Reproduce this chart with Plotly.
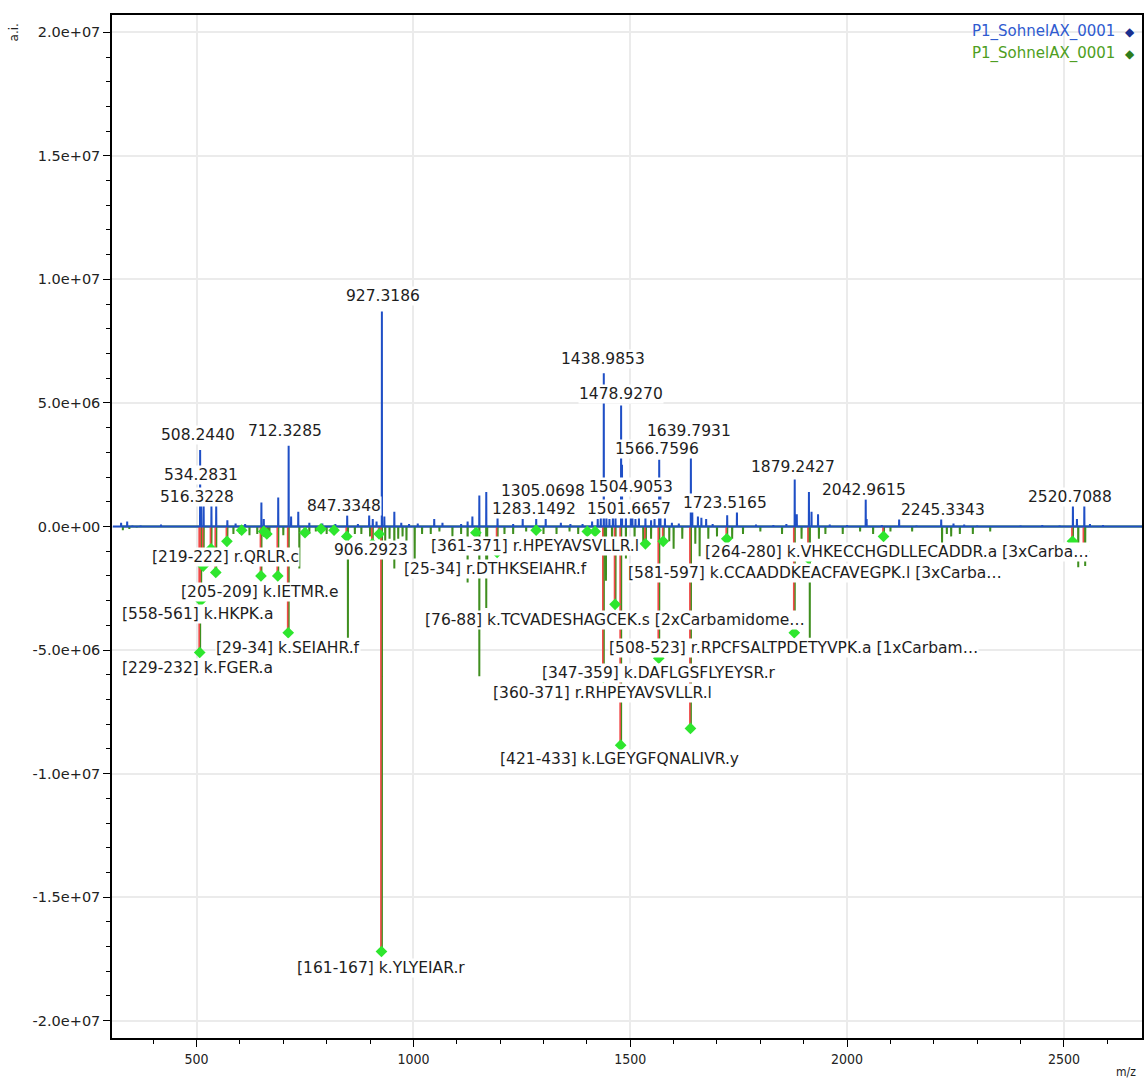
import plotly.graph_objects as go

# ---------------- data ----------------
# blue spectrum (positive): m/z and intensity (a.i.)
blue_mz = [326, 340, 352, 371, 418, 460, 508.24, 510.6, 516.32, 534.28, 545.3, 571, 590, 612,
           649.5, 655, 688.3, 712.33, 718, 734.5, 760, 790, 820, 847.33, 872, 898, 906.29, 915,
           927.32, 933, 956, 972, 990, 1010, 1048, 1067, 1110, 1125, 1136, 1152, 1168, 1194,
           1230, 1252, 1283.15, 1305.07, 1340, 1362, 1390, 1412, 1425, 1432, 1438.99, 1445,
           1452, 1460, 1466, 1478.93, 1481, 1490, 1501.67, 1504.91, 1512, 1520, 1535, 1548,
           1556, 1566.76, 1569.5, 1580, 1596, 1612, 1639.79, 1643, 1656, 1664, 1675, 1690,
           1723.52, 1746, 1790, 1830, 1860, 1879.24, 1884, 1912, 1918, 1933, 1960, 2000,
           2042.96, 2045, 2080, 2120, 2160, 2217, 2245.33, 2270, 2300, 2350, 2400, 2450, 2490,
           2520.71, 2530, 2547, 2560, 2590, 2610]
blue_int = [0.15e6, 0.2e6, 0.05e6, 0.05e6, 0.08e6, 0.04e6, 3.1e6, 0.85e6, 0.85e6, 0.85e6, 0.85e6,
            0.25e6, 0.12e6, 0.1e6, 0.97e6, 0.3e6, 1.17e6, 3.27e6, 0.4e6, 0.6e6, 0.15e6, 0.12e6,
            0.1e6, 0.45e6, 0.1e6, 0.5e6, 0.3e6, 0.2e6, 8.7e6, 0.4e6, 0.6e6, 0.15e6, 0.1e6, 0.12e6,
            0.3e6, 0.15e6, 0.1e6, 0.2e6, 0.4e6, 1.25e6, 1.4e6, 0.35e6, 0.1e6, 0.3e6, 0.3e6, 0.3e6,
            0.15e6, 0.1e6, 0.1e6, 0.2e6, 0.3e6, 0.4e6, 6.2e6, 0.45e6, 0.3e6, 0.5e6, 0.35e6, 4.9e6,
            2.5e6, 0.4e6, 0.5e6, 0.45e6, 0.3e6, 0.35e6, 0.4e6, 0.25e6, 0.3e6, 2.7e6, 1.5e6, 0.35e6,
            0.15e6, 0.12e6, 2.8e6, 0.7e6, 0.4e6, 0.35e6, 0.3e6, 0.1e6, 0.45e6, 0.7e6, 0.08e6,
            0.06e6, 0.1e6, 1.9e6, 0.5e6, 1.4e6, 0.6e6, 0.5e6, 0.08e6, 0.06e6, 1.1e6, 0.3e6,
            0.06e6, 0.28e6, 0.05e6, 0.3e6, 0.12e6, 0.08e6, 0.05e6, 0.04e6, 0.05e6, 0.06e6, 0.05e6,
            0.9e6, 0.3e6, 0.9e6, 0.1e6, 0.06e6, 0.04e6]

# green spectrum (mirrored, negative): peaks not matched to peptides
green_mz = [330, 345, 362, 585, 600, 622, 640, 668, 700, 737, 760, 775, 800, 849, 865, 880, 900,
            935, 945, 956, 965, 975, 984, 1003, 1020, 1040, 1060, 1090, 1110, 1125, 1152, 1168,
            1170, 1210, 1230, 1260, 1300, 1330, 1360, 1380, 1444, 1458, 1490, 1510, 1530, 1548,
            1590, 1600, 1620, 1650, 1660, 1680, 1700, 1735, 1760, 1800, 1850, 1895, 1914, 1935,
            1950, 1990, 2030, 2060, 2100, 2150, 2219, 2230, 2240, 2260, 2290, 2330, 2533, 2549]
green_int = [-0.15e6, -0.1e6, -0.05e6, -0.3e6, -0.3e6, -0.35e6, -0.3e6, -0.4e6, -0.35e6, -1.7e6,
             -0.3e6, -0.2e6, -0.3e6, -4.5e6, -0.3e6, -0.3e6, -0.4e6, -0.6e6, -0.5e6, -1.7e6,
             -0.5e6, -0.4e6, -0.8e6, -1.3e6, -0.3e6, -0.3e6, -0.2e6, -0.4e6, -0.3e6, -2.27e6,
             -6.06e6, -3.3e6, -2.0e6, -0.3e6, -0.3e6, -0.2e6, -0.3e6, -0.3e6, -0.2e6, -0.3e6,
             -2.2e6, -1.0e6, -1.3e6, -0.8e6, -0.6e6, -0.5e6, -0.6e6, -0.9e6, -0.5e6, -0.7e6,
             -1.2e6, -0.5e6, -0.4e6, -0.5e6, -0.3e6, -0.2e6, -0.3e6, -0.5e6, -4.5e6, -0.5e6,
             -0.3e6, -0.3e6, -0.2e6, -0.3e6, -0.2e6, -0.2e6, -0.7e6, -0.3e6, -0.4e6, -0.3e6,
             -0.3e6, -0.2e6, -1.65e6, -1.6e6]

# matched peaks (red lines with green diamonds)
match_mz = [508.24, 510.6, 516.32, 534.28, 545.3, 571, 605, 649.5, 656, 663, 688.3, 712.33, 751,
            788, 818, 847.33, 906.29, 922, 927.32, 1145, 1194, 1284, 1402, 1420, 1438.99, 1466,
            1478.93, 1536, 1566.76, 1577, 1639.79, 1723.52, 1879.24, 1912, 2085, 2520.71, 2547]
match_int = [-5.1e6, -3.0e6, -1.6e6, -0.9e6, -1.86e6, -0.6e6, -0.15e6, -2.0e6, -0.2e6, -0.3e6,
             -2.0e6, -4.3e6, -0.25e6, -0.1e6, -0.15e6, -0.4e6, -0.7e6, -0.3e6, -17.2e6, -0.25e6,
             -1.05e6, -0.15e6, -0.2e6, -0.2e6, -6.1e6, -3.15e6, -8.85e6, -0.7e6, -5.33e6, -0.6e6,
             -8.17e6, -0.5e6, -4.3e6, -1.3e6, -0.4e6, -0.6e6, -1.0e6]

# peak labels (blue spectrum)
peak_labels = ["508.2440", "534.2831", "516.3228", "712.3285", "847.3348", "927.3186",
               "1305.0698", "1283.1492", "1438.9853", "1478.9270", "1504.9053", "1501.6657",
               "1566.7596", "1639.7931", "1723.5165", "1879.2427", "2042.9615", "2245.3343",
               "2520.7088"]
peak_label_x = [503, 510, 501, 705, 841, 929, 1299, 1279, 1437, 1479, 1502, 1497, 1562, 1635,
                1718, 1875, 2040, 2220, 2514]
peak_label_y = [3.70e6, 2.08e6, 1.19e6, 3.86e6, 0.83e6, 9.33e6, 1.44e6, 0.71e6, 6.78e6, 5.36e6,
                1.60e6, 0.71e6, 3.14e6, 3.86e6, 0.95e6, 2.41e6, 1.48e6, 0.67e6, 1.19e6]

# peptide labels (mirrored spectrum)
pep_labels = ["[219-222] r.QRLR.c", "[205-209] k.IETMR.e", "[558-561] k.HKPK.a",
              "[29-34] k.SEIAHR.f", "[229-232] k.FGER.a", "906.2923", "[161-167] k.YLYEIAR.r",
              "[361-371] r.HPEYAVSVLLR.l", "[25-34] r.DTHKSEIAHR.f",
              "[264-280] k.VHKECCHGDLLECADDR.a [3xCarba…",
              "[581-597] k.CCAADDKEACFAVEGPK.l [3xCarba…",
              "[76-88] k.TCVADESHAGCEK.s [2xCarbamidome…",
              "[508-523] r.RPCFSALTPDETYVPK.a [1xCarbam…",
              "[347-359] k.DAFLGSFLYEYSR.r", "[360-371] r.RHPEYAVSVLLR.l",
              "[421-433] k.LGEYGFQNALIVR.y"]
pep_label_x = [567, 646, 503, 710, 503, 903, 926, 1281, 1189, 2114, 1925, 1465, 1877, 1566,
               1437, 1476]
pep_label_y = [-1.23e6, -2.65e6, -3.54e6, -4.92e6, -5.73e6, -0.95e6, -17.87e6, -0.79e6,
               -1.72e6, -1.03e6, -1.88e6, -3.78e6, -4.92e6, -5.93e6, -6.74e6, -9.41e6]

y_tickvals = [-2e7, -1.5e7, -1e7, -5e6, 0, 5e6, 1e7, 1.5e7, 2e7]
y_ticktext = ["-2.0e+07", "-1.5e+07", "-1.0e+07", "-5.0e+06", "0.0e+00", "5.0e+06",
              "1.0e+07", "1.5e+07", "2.0e+07"]
series_name = "P1_SohnelAX_0001"

X_RANGE = [305, 2680]
Y_RANGE = [-2.07e7, 2.07e7]

# ---------------- helpers ----------------
def profile(mz, vals, lo, hi):
    xs, ys = [lo], [0]
    for m, v in sorted(zip(mz, vals)):
        xs += [m - 0.3, m, m + 0.3]
        ys += [0, v, 0]
    xs.append(hi)
    ys.append(0)
    return xs, ys

BLUE = "#1f4fc6"
GREEN = "#3f8f1f"
RED = "#f24a4a"
DIAMOND = "#2ee62e"

fig = go.Figure()

gx, gy = profile(green_mz + match_mz, green_int + match_int, 330, X_RANGE[1])
fig.add_trace(go.Scatter(x=gx, y=gy, mode="lines", line=dict(color=GREEN, width=2),
                         hoverinfo="skip", showlegend=False))

rx, ry = [], []
for m, v in zip(match_mz, match_int):
    rx += [m - 2.3, m - 2.3, None]
    ry += [0, v, None]
fig.add_trace(go.Scatter(x=rx, y=ry, mode="lines", line=dict(color=RED, width=1.6),
                         hoverinfo="skip", showlegend=False))

bx, by = profile(blue_mz, blue_int, 307, X_RANGE[1])
fig.add_trace(go.Scatter(x=bx, y=by, mode="lines", line=dict(color=BLUE, width=2),
                         hoverinfo="skip", showlegend=False))

fig.add_trace(go.Scatter(x=[m - 1 for m in match_mz], y=match_int, mode="markers",
                         marker=dict(symbol="diamond", size=9, color=DIAMOND),
                         hoverinfo="skip", showlegend=False))

LABEL_FONT = dict(family="DejaVu Sans, Verdana, sans-serif", size=15.5, color="#1e1e1e")
for t, x, y in zip(peak_labels, peak_label_x, peak_label_y):
    fig.add_annotation(x=x, y=y, text=t, showarrow=False, font=LABEL_FONT,
                       bgcolor="white", borderpad=0, xanchor="center", yanchor="middle")
for t, x, y in zip(pep_labels, pep_label_x, pep_label_y):
    fig.add_annotation(x=x, y=y, text=t, showarrow=False, font=LABEL_FONT,
                       bgcolor="white", borderpad=0, xanchor="center", yanchor="middle")

# legend (text right-aligned, marker on the right)
fig.add_annotation(xref="paper", yref="paper", x=0.995, y=0.984, xanchor="right",
                   yanchor="middle", showarrow=False,
                   text=f"<span style='color:#2f5bd0'>{series_name}</span>  "
                        f"<span style='color:#1a2f8f;font-size:12px'>◆</span>",
                   font=dict(family="DejaVu Sans, sans-serif", size=15))
fig.add_annotation(xref="paper", yref="paper", x=0.995, y=0.962, xanchor="right",
                   yanchor="middle", showarrow=False,
                   text=f"<span style='color:#4e9e22'>{series_name}</span>  "
                        f"<span style='color:#2f7d1c;font-size:12px'>◆</span>",
                   font=dict(family="DejaVu Sans, sans-serif", size=15))

# axis titles
fig.add_annotation(xref="paper", yref="y", x=-0.095, y=2.0e7, text="a.i.", textangle=-90,
                   xanchor="center", yanchor="middle", showarrow=False,
                   font=dict(family="DejaVu Sans, sans-serif", size=12, color="#222"))
fig.add_annotation(xref="paper", yref="paper", x=0.9845, y=-0.033, text="m/z",
                   xanchor="center", yanchor="middle", showarrow=False,
                   font=dict(family="DejaVu Sans Condensed, sans-serif", size=12,
                             color="#222"))

fig.update_layout(
    width=1146, height=1079,
    margin=dict(l=112, r=2, t=15, b=41),
    paper_bgcolor="white", plot_bgcolor="white",
    showlegend=False,
)
fig.update_xaxes(range=X_RANGE, tick0=0, dtick=500, ticks="outside", ticklen=7,
                 tickwidth=1.2, tickcolor="black", showline=True, linecolor="black",
                 linewidth=1.5, mirror=True, showgrid=True, gridcolor="#ebebeb", gridwidth=1.5,
                 zeroline=False,
                 tickfont=dict(family="DejaVu Sans Condensed, sans-serif", size=14,
                               color="#222"),
                 minor=dict(dtick=100, tick0=0, ticks="outside", ticklen=4, tickcolor="black",
                            showgrid=False))
fig.update_yaxes(range=Y_RANGE, tickvals=y_tickvals, ticktext=y_ticktext, ticks="outside",
                 ticklen=7, tickwidth=1.2, tickcolor="black", showline=True,
                 linecolor="black", linewidth=1.5, mirror=True, showgrid=True,
                 gridcolor="#ebebeb", gridwidth=1.5, zeroline=False,
                 tickfont=dict(family="DejaVu Sans, sans-serif", size=14.5, color="#222"),
                 minor=dict(dtick=1e6, tick0=0, ticks="outside", ticklen=4,
                            tickcolor="black", showgrid=False))

fig.write_html("out.html")
